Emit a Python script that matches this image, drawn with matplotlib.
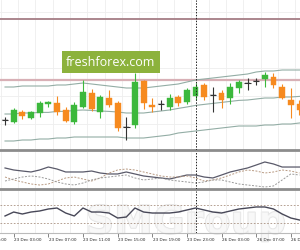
import numpy as np
import matplotlib
matplotlib.use("Agg")
import matplotlib.pyplot as plt
import matplotlib.patheffects as pe

# hourly candles, 23 Dec 02:00 .. 26 Dec 12:00
opens = [1.0440, 1.0439, 1.0444, 1.0441, 1.04435, 1.0448, 1.04485, 1.0445, 1.0439, 1.04465,
         1.04535, 1.0444, 1.0451, 1.04485, 1.04365, 1.04375, 1.04595, 1.04475, 1.0448, 1.04465,
         1.04515, 1.0449, 1.0452, 1.04575, 1.04525, 1.04535, 1.0451, 1.0456, 1.04585, 1.04595,
         1.04605, 1.04615, 1.04565, 1.0450, 1.0448]
closes = [1.0440, 1.0445, 1.0442, 1.0444, 1.04485, 1.0449, 1.0444, 1.04395, 1.04475, 1.0454,
          1.04455, 1.04515, 1.04475, 1.0436, 1.04365, 1.0459, 1.04485, 1.04465, 1.0448, 1.0451,
          1.04485, 1.0455, 1.04565, 1.04515, 1.04525, 1.0450, 1.04565, 1.0459, 1.04585, 1.04595,
          1.04625, 1.04575, 1.0451, 1.04475, 1.0445]
highs = [1.04415, 1.0446, 1.0445, 1.04445, 1.04495, 1.04495, 1.0452, 1.04465, 1.0449, 1.0460,
         1.04555, 1.04525, 1.0455, 1.04495, 1.04415, 1.04635, 1.0460, 1.0451, 1.0450, 1.0453,
         1.04525, 1.0456, 1.04585, 1.04585, 1.04565, 1.0455, 1.04585, 1.0460, 1.0461, 1.0461,
         1.0464, 1.04635, 1.0458, 1.0456, 1.0450]
lows = [1.04375, 1.04385, 1.04405, 1.04405, 1.04415, 1.04465, 1.04425, 1.0439, 1.0438, 1.0446,
        1.04445, 1.0441, 1.04465, 1.04345, 1.0430, 1.0436, 1.04455, 1.0444, 1.0445, 1.0445,
        1.0447, 1.0448, 1.0450, 1.0450, 1.0444, 1.0446, 1.0448, 1.04535, 1.0455, 1.04575,
        1.04565, 1.0456, 1.04505, 1.0441, 1.04425]

bb_upper = [1.04565, 1.04565, 1.0457, 1.0457, 1.0457, 1.0457, 1.04575, 1.04575, 1.0458, 1.04585,
            1.0458, 1.04575, 1.0457, 1.04565, 1.0456, 1.0456, 1.0456, 1.04565, 1.0457, 1.04575,
            1.0458, 1.0459, 1.0460, 1.04605, 1.0461, 1.04615, 1.0462, 1.04625, 1.0463, 1.0464,
            1.04645, 1.04645, 1.0465, 1.0465, 1.0465]
bb_middle = [1.0443, 1.0443, 1.04435, 1.04435, 1.04438, 1.04438, 1.04443, 1.04443, 1.04448, 1.0445,
             1.04448, 1.04445, 1.04443, 1.0444, 1.04435, 1.04435, 1.04435, 1.0444, 1.04445, 1.0445,
             1.04458, 1.04465, 1.04473, 1.04478, 1.04483, 1.04488, 1.04493, 1.04498, 1.0450, 1.04505,
             1.0451, 1.0451, 1.04515, 1.04515, 1.04518]
bb_lower = [1.04295, 1.04295, 1.0430, 1.0430, 1.04305, 1.04305, 1.0431, 1.0431, 1.04315, 1.04315,
            1.04315, 1.04315, 1.04315, 1.04315, 1.0431, 1.0431, 1.0431, 1.04315, 1.0432, 1.04325,
            1.04335, 1.0434, 1.04345, 1.0435, 1.04355, 1.0436, 1.04365, 1.0437, 1.0437, 1.0437,
            1.04375, 1.04375, 1.0438, 1.0438, 1.04385]
levels = [1.04905, 1.0460]

adx = [28.4, 25.7, 24.3, 23.0, 25.7, 29.7, 27.0, 23.0, 23.0, 23.0, 24.3, 21.6, 20.3, 20.3, 23.0,
       20.3, 17.6, 16.2, 14.9, 13.5, 16.2, 18.9, 18.9, 16.2, 14.9, 18.9, 23.0, 25.7, 28.4, 32.4,
       36.5, 33.8, 29.7, 29.7, 29.7]
di_plus = [16.2, 12.2, 9.5, 6.8, 5.4, 6.8, 10.8, 14.9, 16.2, 13.5, 10.8, 14.9, 21.6, 25.7, 27.0,
           25.7, 23.0, 20.3, 17.6, 16.2, 16.2, 17.6, 14.9, 10.8, 12.2, 14.9, 18.9, 23.0, 25.7, 24.3,
           21.6, 23.0, 25.7, 24.3, 21.6]
di_minus = [10.8, 13.5, 16.2, 17.6, 16.2, 13.5, 9.5, 6.8, 5.4, 8.1, 12.2, 14.9, 16.2, 17.6, 18.9,
            14.9, 12.2, 13.5, 14.9, 12.2, 10.8, 9.5, 8.1, 9.5, 12.2, 12.2, 9.5, 6.8, 5.4, 4.1,
            2.7, 4.1, 12.2, 20.3, 18.9]

rsi = [45.6, 54.4, 50.0, 54.4, 56.7, 61.1, 63.3, 52.2, 45.6, 63.3, 54.4, 54.4, 52.2, 41.1, 43.3,
       63.3, 54.4, 52.2, 52.2, 52.2, 54.4, 58.9, 63.3, 58.9, 54.4, 52.2, 56.7, 61.1, 63.3, 65.6,
       65.6, 61.1, 50.0, 41.1, 36.7]
rsi_levels = [70, 30]

tick_pos = [-3, 1, 5, 9, 13, 17, 21, 25, 29, 33]
tick_labels = ["22 Dec 23:00", "23 Dec 03:00", "23 Dec 07:00", "23 Dec 11:00", "23 Dec 15:00",
               "23 Dec 19:00", "23 Dec 23:00", "26 Dec 03:00", "26 Dec 07:00", "26 Dec 11:00"]
day_break = 22

GREEN = "#3cb83c"
ORANGE = "#f68a1f"
GRID = "#eeeeee"
SEP = "#8c8c8c"

x = np.arange(len(opens))
xlim = (-0.58, 34.06)

fig = plt.figure(figsize=(3, 2.5), dpi=100)
ax1 = fig.add_axes([0, 0.4, 1, 0.6])
ax2 = fig.add_axes([0, 0.244, 1, 0.148])
ax3 = fig.add_axes([0, 0.068, 1, 0.168])

for ax in (ax1, ax2, ax3):
    for s in ax.spines.values():
        s.set_visible(False)
    ax.set_xticks([t for t in tick_pos if t > xlim[0]])
    ax.set_xticks(np.arange(-0.5, 35, 2), minor=True)
    ax.set_xlim(*xlim)
    ax.grid(which="minor", axis="x", color=GRID, lw=0.6)
    ax.tick_params(which="both", left=False, labelleft=False, bottom=False, labelbottom=False)
    ax.axvline(day_break, color="#222222", lw=0.7, ls=(0, (1.5, 1.5)), zorder=5)

# main price panel
ax1.set_ylim(1.0425, 1.0500)
ax1.set_yticks([1.0494, 1.0480, 1.0466, 1.0452, 1.0438], minor=True)
ax1.grid(which="minor", axis="y", color=GRID, lw=0.6)
ax1.axhline(levels[0], color="#a57d85", lw=1.3, zorder=2)
ax1.axhline(levels[1], color="#d8b0b6", lw=1.6, zorder=2)
for band in (bb_upper, bb_middle, bb_lower):
    ax1.plot(x, band, color="#93ada5", lw=0.8, zorder=3)

o = np.array(opens); c = np.array(closes)
cols = [GREEN if cc > oo else (ORANGE if cc < oo else "#333333") for oo, cc in zip(o, c)]
ax1.vlines(x, lows, highs, colors=cols, lw=0.8, zorder=4)
body = np.abs(c - o)
ax1.bar(x, body, bottom=np.minimum(o, c), width=0.68, color=cols, edgecolor=cols, lw=0.3, zorder=4)
doji = body == 0
ax1.hlines(o[doji], x[doji] - 0.38, x[doji] + 0.38, colors="#333333", lw=0.8, zorder=4)
ax1.spines["bottom"].set_visible(True)
ax1.spines["bottom"].set_color(SEP)
ax1.spines["bottom"].set_linewidth(2)

fig.text(0.37, 0.752, "freshforex.com", ha="center", va="center", color="white",
         fontsize=9, family="Open Sans",
         bbox=dict(boxstyle="square,pad=0.35", fc="#8cb23c", ec="none"), zorder=10)

# ADX panel
ax2.set_ylim(0, 50)
ax2.plot(x, adx, color="#5a5a6a", lw=0.9)
ax2.plot(x, di_plus, color="#b89a82", lw=0.7, ls=(0, (2, 1.5)))
ax2.plot(x, di_minus, color="#9a9a9a", lw=0.7, ls=(0, (2, 1.5)))
ax2.spines["bottom"].set_visible(True)
ax2.spines["bottom"].set_color(SEP)
ax2.spines["bottom"].set_linewidth(2)

# RSI panel
ax3.set_ylim(7.8, 101.1)
for lv in rsi_levels:
    ax3.axhline(lv, color="#a89080", lw=0.6, ls=(0, (2, 2)), zorder=2)
ax3.plot(x, rsi, color="#484858", lw=1.0, zorder=6)
ax3.spines["bottom"].set_visible(True)
ax3.spines["bottom"].set_color("#bbbbbb")
ax3.spines["bottom"].set_linewidth(0.8)
ax3.tick_params(axis="x", which="major", bottom=True, length=3, width=0.5, color="#555555")
for tp, tl in zip(tick_pos, tick_labels):
    ax3.text(tp + 0.05, -0.13, tl, transform=ax3.get_xaxis_transform(), ha="left", va="top",
             fontsize=3.0, color="#222222", clip_on=False)
ax3.text(0.62, 0.11, "SMGroup", transform=fig.transFigure, ha="center", va="center",
         fontsize=28, fontweight="bold", color="#f8f8f8", alpha=0.7, zorder=1, clip_on=False,
         path_effects=[pe.Stroke(linewidth=1.0, foreground="#d8d8d8"), pe.Normal()])

fig.savefig("out.png", dpi=100)
